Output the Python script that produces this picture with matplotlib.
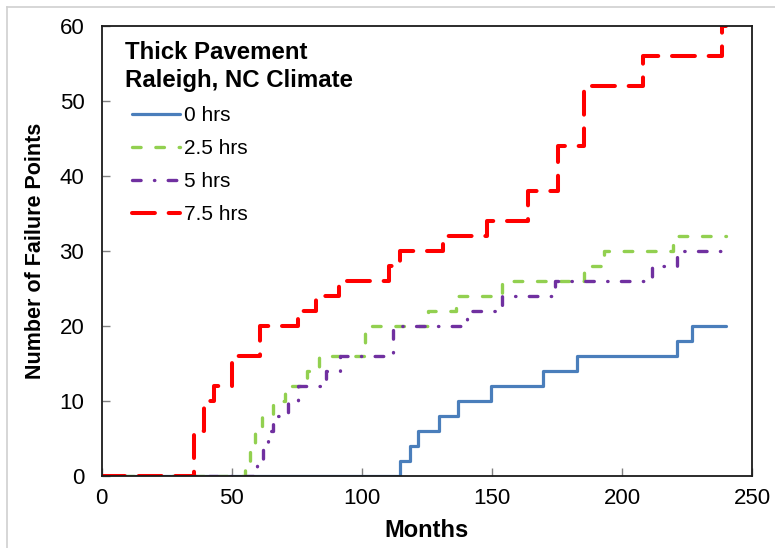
import matplotlib
matplotlib.use("Agg")
import matplotlib.pyplot as plt
from matplotlib.lines import Line2D

plt.rcParams['font.family'] = ['Liberation Sans', 'DejaVu Sans']
plt.rcParams['lines.scale_dashes'] = False

# ---- data ----
series_labels = ["0 hrs", "2.5 hrs", "5 hrs", "7.5 hrs"]

months_0 = [0, 114.5, 118.5, 121.5, 129.5, 137, 149.5, 169.5, 182.5, 221, 227, 240]
fail_0 = [0, 2, 4, 6, 8, 10, 12, 14, 16, 18, 20, 20]

months_25 = [0, 55, 57, 59, 61.5, 66, 70.5, 79, 83.5, 101, 125.5, 136, 154, 185.5, 193, 219.5, 240]
fail_25 = [0, 2, 4, 6, 8, 10, 12, 14, 16, 20, 22, 24, 26, 28, 30, 32, 32]

months_5 = [0, 59.5, 62, 64, 66, 71.5, 75.5, 86, 91.5, 112, 140.5, 154, 174, 211.5, 221, 240]
fail_5 = [0, 2, 4, 6, 8, 10, 12, 14, 16, 20, 22, 24, 26, 28, 30, 30]

months_75 = [0, 35.5, 39.5, 43, 50, 61, 75.5, 82.5, 91, 110.5, 114.5, 131, 148, 164, 175.5, 185.5, 208, 238.5, 240]
fail_75 = [0, 6, 10, 12, 16, 20, 22, 24, 26, 28, 30, 32, 34, 38, 44, 52, 56, 60, 60]

x_ticks = [0, 50, 100, 150, 200, 250]
y_ticks = [0, 10, 20, 30, 40, 50, 60]

title_lines = ["Thick Pavement", "Raleigh, NC Climate"]

# ---- figure ----
W, H = 775, 548
fig = plt.figure(figsize=(W / 100, H / 100), dpi=100)
ax_l, ax_r, ax_b, ax_t = 101.7, 752.3, 476, 26
ax = fig.add_axes([ax_l / W, 1 - ax_b / H, (ax_r - ax_l) / W, (ax_b - ax_t) / H])

# outer light frame (top and left edges visible)
fig.add_artist(Line2D([6.5 / W, 1], [1 - 6.5 / H, 1 - 6.5 / H], transform=fig.transFigure,
                      color='#d0d0d0', lw=1.2))
fig.add_artist(Line2D([6.5 / W, 6.5 / W], [0, 1 - 6.5 / H], transform=fig.transFigure,
                      color='#d0d0d0', lw=1.2))

blue = '#4A7EBB'
green = '#92D050'
purple = '#7030A0'
red = '#FF0000'

ax.step(months_0, fail_0, where='post', color=blue, lw=2.3, label=series_labels[0],
        solid_capstyle='round', solid_joinstyle='round')
ax.step(months_25, fail_25, where='post', color=green, lw=2.4, label=series_labels[1],
        linestyle=(0, (6.2, 10.6)), dash_capstyle='round', dash_joinstyle='round')
ax.step(months_5, fail_5, where='post', color=purple, lw=2.4, label=series_labels[2],
        linestyle=(0, (6.2, 9.6, 0.3, 9.6)), dash_capstyle='round', dash_joinstyle='round')
ax.step(months_75, fail_75, where='post', color=red, lw=2.9, label=series_labels[3],
        linestyle=(0, (16.5, 9.9)), dash_capstyle='round', dash_joinstyle='round')

ax.set_xlim(0, 250)
ax.set_ylim(0, 60)
ax.set_xticks(x_ticks)
ax.set_yticks(y_ticks)
ax.tick_params(axis='both', direction='in', length=6, width=1, color='#808080',
               labelsize=16, labelcolor='#000000')
ax.tick_params(axis='x', pad=8.5)
ax.tick_params(axis='y', pad=12.5)
for s in ax.spines.values():
    s.set_color('#1a1a1a')
    s.set_linewidth(1.3)

ax.set_xlabel("Months", fontsize=17, fontweight='bold', labelpad=7)
ax.set_ylabel("Number of Failure Points", fontsize=15.5, fontweight='bold', labelpad=10)

# title text block
def fx(px):
    return (px - ax_l) / (ax_r - ax_l)

def fy(py):
    return (ax_b - py) / (ax_b - ax_t)

ax.text(fx(125), fy(59.3), title_lines[0], fontsize=17.3, fontweight='bold',
        va='baseline', ha='left', transform=ax.transAxes)
ax.text(fx(125), fy(87.5), title_lines[1], fontsize=17.3, fontweight='bold',
        va='baseline', ha='left', transform=ax.transAxes)

leg = ax.legend(loc='upper left', bbox_to_anchor=(fx(131.7), fy(106)), frameon=False,
                fontsize=15, handlelength=2.3, handletextpad=0.2, labelspacing=0.68,
                borderpad=0, borderaxespad=0)

fig.savefig("out.png", dpi=100, facecolor='white')
